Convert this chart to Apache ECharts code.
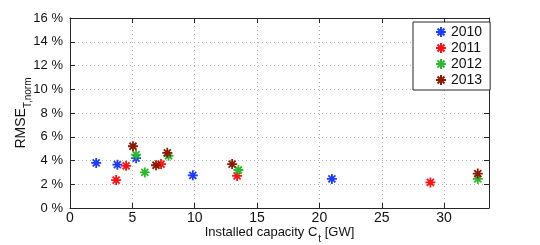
<!DOCTYPE html>
<html>
<head>
<meta charset="utf-8">
<script src="https://cdn.jsdelivr.net/npm/echarts@6/dist/echarts.min.js"></script>
<style>html,body{margin:0;padding:0;background:#fff;}#c{width:540px;height:245px;}</style>
</head>
<body>
<div id="c"></div>
<script>
var seriesNames = ['2010', '2011', '2012', '2013'];
var capacity2010 = [2.1, 3.8, 5.3, 9.85, 21.0];
var rmse2010 = [3.8, 3.65, 4.2, 2.75, 2.45];
var capacity2011 = [3.7, 4.5, 7.3, 13.4, 28.9];
var rmse2011 = [2.35, 3.55, 3.7, 2.7, 2.15];
var capacity2012 = [5.3, 6.0, 7.9, 13.5, 32.7];
var rmse2012 = [4.5, 3.0, 4.4, 3.2, 2.45];
var capacity2013 = [5.05, 6.9, 7.8, 13.0, 32.7];
var rmse2013 = [5.2, 3.6, 4.65, 3.7, 2.9];
var yTicks = [0, 2, 4, 6, 8, 10, 12, 14, 16];
var xTicks = [0, 5, 10, 15, 20, 25, 30];

var colors = ['#1a3cff', '#ff1010', '#2db82d', '#8c1a00'];
var caps = [capacity2010, capacity2011, capacity2012, capacity2013];
var vals = [rmse2010, rmse2011, rmse2012, rmse2013];
var star = 'path://M0 8L16 8M8 0L8 16M2.4 2.4L13.6 13.6M13.6 2.4L2.4 13.6';

function pairs(xs, ys) { return xs.map(function (x, i) { return [x, ys[i]]; }); }

var font = 'Liberation Sans, Arial, Helvetica, sans-serif';
var axisCol = '#262626';
var series = seriesNames.map(function (n, k) {
  return {
    name: n, type: 'scatter', xAxisIndex: 0, yAxisIndex: 0,
    symbol: star, symbolSize: 10,
    itemStyle: { color: 'transparent', borderColor: colors[k], borderWidth: 1.8, opacity: 1 },
    data: pairs(caps[k], vals[k]),
    z: 3 + k
  };
});

var chart = echarts.init(document.getElementById('c'), null, { renderer: 'canvas' });
chart.setOption({
  animation: false,
  backgroundColor: '#fff',
  textStyle: { fontFamily: font },
  grid: { left: 70, right: 51, top: 18, bottom: 37, containLabel: false, outerBoundsMode: 'none' },
  legend: {
    data: seriesNames, orient: 'vertical', left: 413, top: 22,
    padding: [3, 8, 3, 22], itemGap: 2, itemWidth: 10, itemHeight: 10,
    backgroundColor: '#fff', borderColor: axisCol, borderWidth: 1, borderRadius: 0,
    textStyle: { fontSize: 14, color: '#111', fontFamily: font }
  },
  xAxis: [{
    type: 'value', min: 0, max: 33.6, interval: 5, position: 'bottom',
    name: '{a|Installed capacity C}{b|t}{a| [GW]}', nameLocation: 'middle', nameGap: 18,
    nameMoveOverlap: false,
    nameTextStyle: { rich: {
      a: { fontSize: 13, color: '#111', fontFamily: font, lineHeight: 15, verticalAlign: 'top' },
      b: { fontSize: 10, color: '#111', fontFamily: font, lineHeight: 10, padding: [8, 0, 0, 1], verticalAlign: 'top' }
    } },
    axisLine: { show: true, lineStyle: { color: axisCol, width: 1 } },
    axisTick: { show: true, inside: true, length: 5, lineStyle: { color: axisCol } },
    axisLabel: { fontSize: 14, color: '#111', margin: 3, fontFamily: font,
      formatter: function (v) { return xTicks.indexOf(v) >= 0 ? String(v) : ''; } },
    splitLine: { show: true, lineStyle: { color: '#b0b0b0', type: [1, 3], width: 1 } }
  }, {
    type: 'value', min: 0, max: 33.6, interval: 5, position: 'top',
    axisLine: { show: true, onZero: false, lineStyle: { color: axisCol, width: 1 } },
    axisTick: { show: true, inside: true, length: 5, lineStyle: { color: axisCol } },
    axisLabel: { show: false }, splitLine: { show: false }
  }],
  yAxis: [{
    type: 'value', min: 0, max: 16, interval: 2, position: 'left',
    name: '{a|RMSE}{b|T,norm}', nameLocation: 'middle', nameGap: 40, nameRotate: 90,
    nameMoveOverlap: false,
    nameTextStyle: { rich: {
      a: { fontSize: 14, color: '#111', fontFamily: font, lineHeight: 16, verticalAlign: 'top' },
      b: { fontSize: 10, color: '#111', fontFamily: font, lineHeight: 10, padding: [9, 0, 0, 0], verticalAlign: 'top' }
    } },
    axisLine: { show: true, lineStyle: { color: axisCol, width: 1 } },
    axisTick: { show: true, inside: true, length: 5, lineStyle: { color: axisCol } },
    axisLabel: { fontSize: 13, color: '#111', margin: 7, fontFamily: font,
      formatter: function (v) { return yTicks.indexOf(v) >= 0 ? v + ' %' : ''; } },
    splitLine: { show: true, lineStyle: { color: '#b0b0b0', type: [1, 3], width: 1 } }
  }, {
    type: 'value', min: 0, max: 16, interval: 2, position: 'right',
    axisLine: { show: true, onZero: false, lineStyle: { color: axisCol, width: 1 } },
    axisTick: { show: true, inside: true, length: 5, lineStyle: { color: axisCol } },
    axisLabel: { show: false }, splitLine: { show: false }
  }],
  series: series
});
</script>
</body>
</html>
